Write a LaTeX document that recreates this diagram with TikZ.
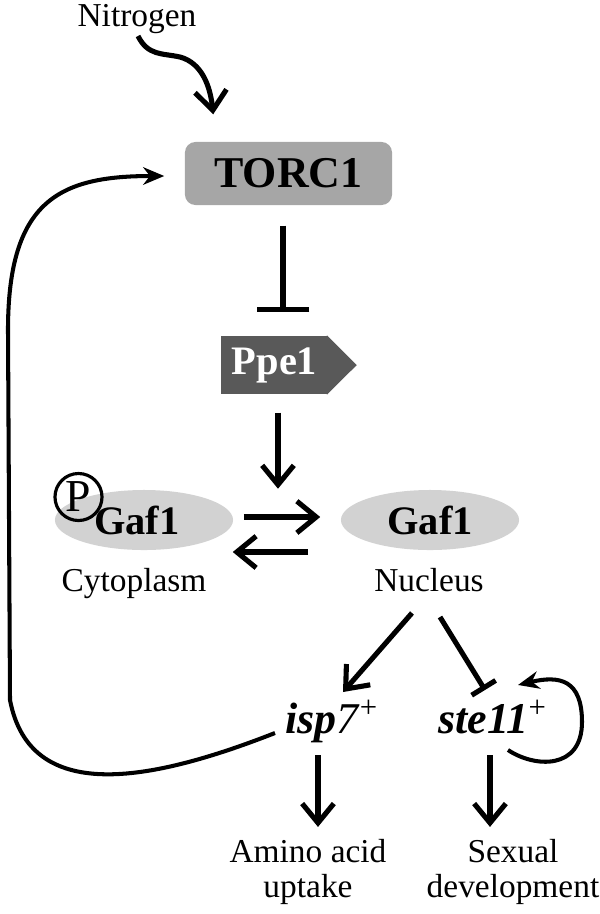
\documentclass[tikz,border=0pt]{standalone}
\usepackage{fontspec}
\setmainfont{Liberation Serif}
\usetikzlibrary{arrows.meta, positioning, shapes.geometric}
\definecolor{TorcGray}{RGB}{166,166,166}
\definecolor{PpeGray}{RGB}{89,89,89}
\definecolor{GafGray}{RGB}{210,210,210}

\begin{document}
\begin{tikzpicture}[x=0.01cm, y=-0.01cm,
    lbl/.style={font=\fontsize{9.5}{9.8}\selectfont, inner sep=0pt, align=center},
    gene/.style={font=\fontsize{12.5}{14}\selectfont, inner sep=0pt},
    act/.style={line width=1.45pt, -{Straight Barb[length=5.5pt,width=9pt]}},
    inh/.style={line width=1.45pt, -{Bar[width=15pt]}},
    fb/.style={line width=1.15pt, -{Stealth[length=6pt,width=5pt]}},
    gaf/.style={ellipse, fill=GafGray, minimum width=1.78cm, minimum height=0.6cm,
      inner sep=0pt, font=\fontsize{11.5}{13}\selectfont\bfseries}]
  \useasboundingbox (0,0) rectangle (600,914);

  % signalling nodes
  \node[lbl, anchor=base] (nitro) at (137,26) {Nitrogen};
  \node[rectangle, rounded corners=3pt, fill=TorcGray, minimum width=2.07cm, minimum height=0.63cm,
    font=\fontsize{12.5}{14}\selectfont\bfseries] (torc) at (288.5,173.5) {TORC1};
  \node[fill=PpeGray, text=white, minimum width=1.07cm, minimum height=0.58cm, inner sep=0pt,
    font=\fontsize{11.5}{13}\selectfont\bfseries] (ppe) at (274.5,365) {Ppe1};
  \fill[PpeGray] ([xshift=-0.5pt]ppe.north east) -- ([xshift=0.28cm]ppe.east) -- ([xshift=-0.5pt]ppe.south east) -- cycle;

  \node[gaf] (pgaf) at (144,520) {\hspace*{-4pt}Gaf1};
  \node[circle, draw, line width=0.9pt, minimum size=0.47cm, inner sep=0pt,
    font=\fontsize{13}{15}\selectfont] (phos) at (78.5,497) {P};
  \node[gaf] (ngaf) at (430,520) {Gaf1};
  \node[lbl, anchor=base] (cyto) at (134,591) {Cytoplasm};
  \node[lbl, anchor=base] (nuc) at (429,591) {Nucleus};

  \node[gene, anchor=base] (isp) at (332,733) {\textbf{\textit{isp}}\textit{7}\textsuperscript{+}};
  \node[gene, anchor=base] (ste) at (493,733) {\textbf{\textit{ste11}}\textsuperscript{+}};
  \node[lbl] (amino) at (308,872) {Amino acid\\uptake};
  \node[lbl] (sexual) at (513,872) {Sexual\\development};

  % connectors
  \draw[act] ([shift={(1,10)}]nitro.base) .. controls +(10,20) and +(-18,-4) .. ([shift={(43,31)}]nitro.base)
    .. controls +(22,6) and +(-3,-28) .. ([shift={(29,-27)}]torc.north west);
  \draw[inh] ([shift={(-5.5,20)}]torc.south) -- ([shift={(8.5,-23)}]ppe.north);
  \draw[act] ([shift={(3.5,18)}]ppe.south) -- ([shift={(3.5,94)}]ppe.south);
  \draw[act] ([shift={(10,-3)}]pgaf.east) -- ([shift={(-20,-3)}]ngaf.west);
  \draw[act] ([shift={(-32,32)}]ngaf.west) -- ([shift={(-1,32)}]pgaf.east);
  \draw[act] ([shift={(-17,22)}]nuc.base) -- ([shift={(11,-41)}]isp.base);
  \draw[line width=1.45pt, -{Bar[width=8pt]}] ([shift={(11,26)}]nuc.base) -- ([shift={(-8,-43)}]ste.base);
  \draw[act] ([shift={(-14,22)}]isp.base) -- ([shift={(10,-12)}]amino.north);
  \draw[act] ([shift={(-3,22)}]ste.base) -- ([shift={(-23,-12)}]sexual.north);
  \draw[fb] ([shift={(15,17)}]ste.base) .. controls +(27,18) and +(0,48) .. ([shift={(89,-11)}]ste.base)
    .. controls +(0,-42) and +(42,-10) .. ([shift={(25,-48)}]ste.base);
  \draw[fb] ([shift={(-57,0)}]isp.base) .. controls (150,782) and (30,805) .. (10,700) -- (8,330)
    .. controls (8,200) and (60,176) .. ([shift={(-20,2.5)}]torc.west);
\end{tikzpicture}
\end{document}
